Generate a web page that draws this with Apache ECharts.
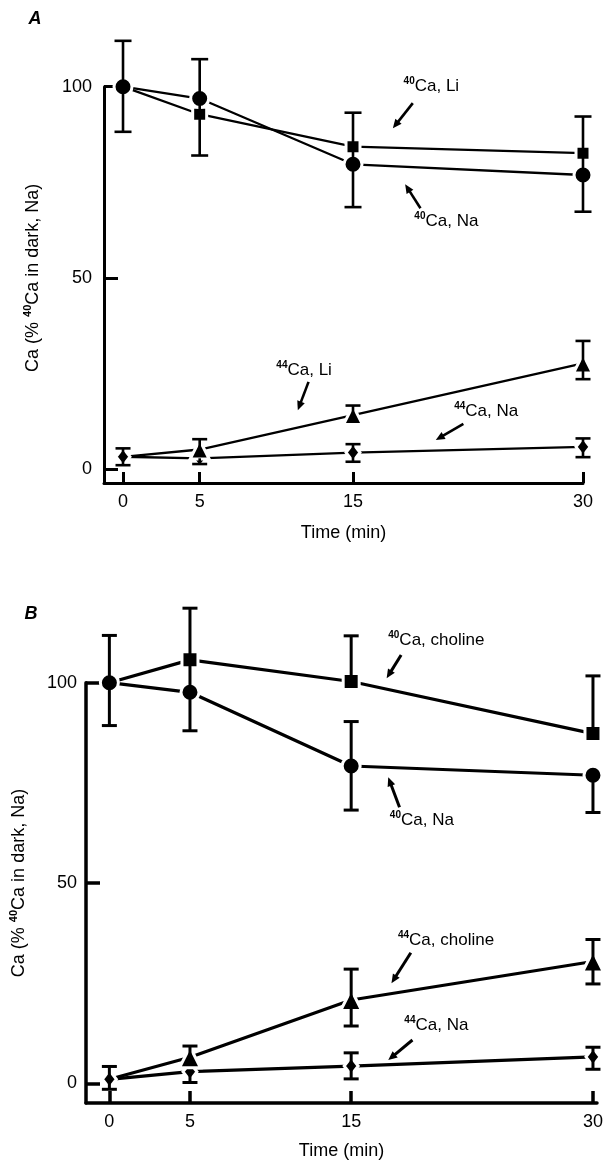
<!DOCTYPE html>
<html><head><meta charset="utf-8">
<script src="https://cdn.jsdelivr.net/npm/echarts@6/dist/echarts.min.js"></script>
<style>html,body{margin:0;padding:0;background:#fff}#c{width:606px;height:1162px}</style>
</head><body><div id="c"></div>
<script>
// ---- data ----
const times = [0, 5, 15, 30];
const xTicks = [0, 5, 15, 30];
const yTicks = [0, 50, 100];

// Panel A
const a40Na = [100, 96.9, 79.7, 76.9];
const a40Li = [100, 92.8, 84.3, 82.6];
const a40ErrLo = [88.2, 82.0, 68.5, 67.3];
const a40ErrHi = [112.0, 107.2, 93.2, 92.2];
const a44Li = [3.2, 5.1, 14.1, 27.6];
const a44LiErrLo = [null, null, null, 23.5];
const a44LiErrHi = [null, 7.8, 16.6, 33.5];
const a44Na = [3.2, 2.8, 4.3, 5.8];
const a44NaErrLo = [1.0, 1.3, 1.9, 3.1];
const a44NaErrHi = [5.4, null, 6.5, 8.0];

// Panel B
const b40Cho = [100, 105.7, 100.3, 87.3];
const b40ChoErrLo = [null, 88.0, null, null];
const b40ChoErrHi = [null, 118.6, 111.7, 101.7];
const b40Na = [100, 97.6, 79.2, 76.9];
const b40NaErrLo = [89.3, null, 68.2, 67.6];
const b40NaErrHi = [111.8, null, 90.3, null];
const b44Cho = [1, 6.5, 20.8, 30.4];
const b44ChoErrLo = [null, null, 14.3, 24.8];
const b44ChoErrHi = [null, 9.3, 28.5, 35.9];
const b44Na = [1, 2.9, 4.3, 6.6];
const b44NaErrLo = [-1.5, 0.2, 1.1, 3.5];
const b44NaErrHi = [4.2, null, 7.6, 9.0];

// annotation labels: [isotope, text], anchor [x, y] (data units), arrow from/to (data units)
const annA = [
  ['40', 'Ca, Li', [18.3, 100.2], [18.9, 95.7], [17.6, 89.1]],
  ['40', 'Ca, Na', [19.0, 64.7], [19.4, 68.2], [18.4, 74.5]],
  ['44', 'Ca, Li', [10.0, 25.9], [12.1, 22.8], [11.4, 15.4]],
  ['44', 'Ca, Na', [21.6, 15.2], [22.2, 11.8], [20.4, 7.6]]
];
const annB = [
  ['40', 'Ca, choline', [17.3, 110.7], [18.1, 106.9], [17.2, 101.1]],
  ['40', 'Ca, Na', [17.4, 65.7], [18.0, 68.9], [17.3, 76.4]],
  ['44', 'Ca, choline', [17.9, 35.8], [18.7, 32.6], [17.5, 25.0]],
  ['44', 'Ca, Na', [18.3, 14.4], [18.8, 10.8], [17.3, 5.8]]
];
const panelLetters = ['A', 'B'];
const xTitle = 'Time (min)';
const yTitleParts = ['Ca (% ', '40', 'Ca in dark, Na)'];

// ---- chart ----
const FONT = '"Liberation Sans", Arial, Helvetica, sans-serif';
const chart = echarts.init(document.getElementById('c'), null, {renderer: 'canvas', width: 606, height: 1162});

function lineSeries(g, vals, symbol, size, lw, hideFirst) {
  return {
    type: 'line', xAxisIndex: g, yAxisIndex: g,
    data: times.map((t, i) => (hideFirst && i === 0) ? {value: [t, vals[i]], symbolSize: 0} : [t, vals[i]]),
    symbol: symbol, symbolSize: size, showSymbol: true, clip: false, z: 2,
    lineStyle: {color: '#000', width: lw},
    itemStyle: {color: '#000', borderColor: '#fff', borderWidth: 3},
    emphasis: {disabled: true}, silent: true, animation: false
  };
}
function errSeries(g, vals, lo, hi, capW, lw) {
  return {
    type: 'custom', xAxisIndex: g, yAxisIndex: g, clip: false, z: 5, silent: true,
    data: times.map((t, i) => [t, vals[i], lo[i] == null ? vals[i] : lo[i], hi[i] == null ? vals[i] : hi[i]]),
    encode: {x: 0, y: [1, 2, 3]},
    renderItem: function (params, api) {
      const i = params.dataIndex;
      const x = api.coord([api.value(0), api.value(1)])[0];
      const yl = api.coord([api.value(0), api.value(2)])[1];
      const yh = api.coord([api.value(0), api.value(3)])[1];
      const st = {stroke: '#000', lineWidth: lw};
      const ch = [{type: 'line', shape: {x1: x, y1: yl, x2: x, y2: yh}, style: st}];
      if (lo[i] != null) ch.push({type: 'line', shape: {x1: x - capW / 2, y1: yl, x2: x + capW / 2, y2: yl}, style: st});
      if (hi[i] != null) ch.push({type: 'line', shape: {x1: x - capW / 2, y1: yh, x2: x + capW / 2, y2: yh}, style: st});
      return {type: 'group', children: ch};
    }
  };
}
function xAxisCfg(g, min, max, lw, tickLen) {
  return {
    gridIndex: g, type: 'value', min: min, max: max,
    axisLine: {show: true, onZero: false, lineStyle: {color: '#000', width: lw}},
    axisTick: {show: true, inside: true, length: tickLen, customValues: xTicks, lineStyle: {color: '#000', width: lw}},
    axisLabel: {show: true, customValues: xTicks, color: '#000', fontSize: 18, fontFamily: FONT, margin: 10},
    splitLine: {show: false}
  };
}
function yAxisCfg(g, min, lw, tickLen, margin) {
  return {
    gridIndex: g, type: 'value', min: min, max: 100,
    axisLine: {show: true, onZero: false, lineStyle: {color: '#000', width: lw}},
    axisTick: {show: true, inside: true, length: tickLen, customValues: yTicks, lineStyle: {color: '#000', width: lw}},
    axisLabel: {show: true, customValues: yTicks, color: '#000', fontSize: 18, fontFamily: FONT, margin: margin},
    splitLine: {show: false}
  };
}

const option = {
  animation: false,
  backgroundColor: '#fff',
  grid: [
    {left: 104, top: 86.7, width: 479, height: 396.3, containLabel: false, outerBoundsMode: 'none'},
    {left: 86, top: 682.7, width: 511, height: 420.3, containLabel: false, outerBoundsMode: 'none'}
  ],
  xAxis: [xAxisCfg(0, -1.24, 30, 3, 11), xAxisCfg(1, -1.45, 30.25, 3.5, 12)],
  yAxis: [yAxisCfg(0, -3.66, 3, 14, 12), yAxisCfg(1, -4.92, 3.5, 14, 9)],
  series: [
    lineSeries(0, a40Li, 'rect', 14, 2.3, false),
    lineSeries(0, a40Na, 'circle', 18, 2.3, false),
    lineSeries(0, a44Na, 'diamond', [14, 18], 2.3, false),
    lineSeries(0, a44Li, 'triangle', 19, 2.3, true),
    errSeries(0, a40Na, a40ErrLo, a40ErrHi, 17, 2.6),
    errSeries(0, a44Li, a44LiErrLo, a44LiErrHi, 15, 2.6),
    errSeries(0, a44Na, a44NaErrLo, a44NaErrHi, 15, 2.6),
    lineSeries(1, b40Cho, 'rect', 16, 3.2, false),
    lineSeries(1, b40Na, 'circle', 18, 3.2, false),
    lineSeries(1, b44Na, 'diamond', [14, 18], 3.2, false),
    lineSeries(1, b44Cho, 'triangle', 21, 3.2, true),
    errSeries(1, b40Cho, b40ChoErrLo, b40ChoErrHi, 15, 3),
    errSeries(1, b40Na, b40NaErrLo, b40NaErrHi, 15, 3),
    errSeries(1, b44Cho, b44ChoErrLo, b44ChoErrHi, 15, 3),
    errSeries(1, b44Na, b44NaErrLo, b44NaErrHi, 15, 3)
  ]
};
chart.setOption(option);

// ---- annotations (positioned through the axes' scales) ----
function px(g, x, y) { return chart.convertToPixel({gridIndex: g}, [x, y]); }
const richLab = {
  s: {fontSize: 10, fontWeight: 'bold', fontFamily: FONT, fill: '#000', verticalAlign: 'top', lineHeight: 20},
  t: {fontSize: 17, fontFamily: FONT, fill: '#000', lineHeight: 20}
};
function arrow(g, a, b, lw) {
  const p = px(g, a[0], a[1]), q = px(g, b[0], b[1]);
  const dx = q[0] - p[0], dy = q[1] - p[1], L = Math.hypot(dx, dy), ux = dx / L, uy = dy / L;
  const hl = 9, hw = 4;
  const base = [q[0] - ux * hl, q[1] - uy * hl];
  return [
    {type: 'line', silent: true, shape: {x1: p[0], y1: p[1], x2: base[0] + ux * 2, y2: base[1] + uy * 2}, style: {stroke: '#000', lineWidth: lw}},
    {type: 'polygon', silent: true, shape: {points: [q, [base[0] - uy * hw, base[1] + ux * hw], [base[0] + uy * hw, base[1] - ux * hw]]}, style: {fill: '#000'}}
  ];
}
const xRange = [[-1.24, 30], [-1.45, 30.25]];
const graphics = [];
[[0, annA, 2.6], [1, annB, 3]].forEach(([g, list, lw]) => {
  list.forEach(a => {
    const p = px(g, a[2][0], a[2][1]);
    graphics.push({type: 'text', silent: true, x: p[0], y: p[1],
      style: {text: '{s|' + a[0] + '}{t|' + a[1] + '}', rich: richLab, align: 'left', verticalAlign: 'middle'}});
    arrow(g, a[3], a[4], lw).forEach(e => graphics.push(e));
  });
  // x-axis title, centred under the axis
  const xMid = (px(g, xRange[g][0], 0)[0] + px(g, xRange[g][1], 0)[0]) / 2;
  graphics.push({type: 'text', silent: true, x: xMid, y: g === 0 ? 533 : 1151,
    style: {text: xTitle, fontSize: 18, fontFamily: FONT, fill: '#000', align: 'center', verticalAlign: 'middle'}});
  // y-axis title, centred at 50
  const yc = px(g, 0, 50);
  graphics.push({type: 'text', silent: true, x: g === 0 ? 33 : 19, y: yc[1], rotation: Math.PI / 2,
    style: {text: '{t|' + yTitleParts[0] + '}{s|' + yTitleParts[1] + '}{t|' + yTitleParts[2] + '}',
      rich: {s: {fontSize: 11, fontWeight: 'bold', fontFamily: FONT, fill: '#000', verticalAlign: 'top', lineHeight: 21},
             t: {fontSize: 18, fontFamily: FONT, fill: '#000', lineHeight: 21}},
      align: 'center', verticalAlign: 'middle'}});
});
graphics.push({type: 'text', silent: true, x: 35, y: 19, style: {text: panelLetters[0], fontSize: 18, fontStyle: 'italic', fontWeight: 'bold', fontFamily: FONT, fill: '#000', align: 'center', verticalAlign: 'middle'}});
graphics.push({type: 'text', silent: true, x: 31, y: 614, style: {text: panelLetters[1], fontSize: 18, fontStyle: 'italic', fontWeight: 'bold', fontFamily: FONT, fill: '#000', align: 'center', verticalAlign: 'middle'}});
chart.setOption({graphic: graphics});
</script></body></html>
